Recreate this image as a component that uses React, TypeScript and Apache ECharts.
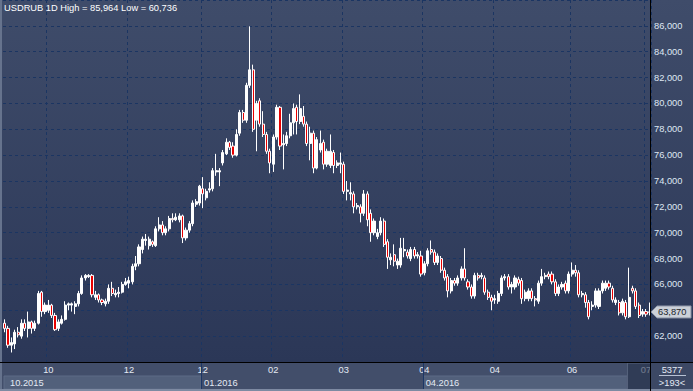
import React, { useEffect, useRef } from 'react';
import * as echarts from 'echarts';

const titleText = 'USDRUB 1D High = 85,964 Low = 60,736';

// [open, close, low, high]
const ohlc: [number, number, number, number][] = [
  [63.0, 62.6, 62.3, 63.3], [62.6, 61.3, 61.1, 62.8], [61.3, 61.5, 60.736, 61.9], [61.4, 62.3, 61.0, 62.5],
  [62.3, 62.1, 61.9, 62.7], [62.0, 63.0, 61.8, 63.3], [63.0, 62.6, 62.4, 63.3], [62.6, 63.1, 61.9, 63.9],
  [63.1, 62.6, 62.2, 63.2], [62.6, 63.0, 62.4, 63.2], [63.0, 65.3, 62.9, 65.5], [65.4, 63.9, 63.5, 65.5],
  [63.9, 64.4, 63.7, 64.6], [64.0, 64.4, 63.8, 64.8], [64.4, 63.6, 63.4, 64.5], [63.6, 62.5, 62.4, 63.8],
  [62.6, 63.1, 62.4, 63.3], [63.0, 63.3, 62.9, 63.6], [63.3, 64.4, 63.2, 64.7], [64.4, 64.5, 64.0, 64.6],
  [64.4, 64.5, 63.9, 64.6], [64.3, 64.5, 63.7, 64.7], [64.5, 65.3, 64.3, 65.5], [65.3, 66.5, 65.2, 66.7],
  [66.5, 66.7, 66.3, 66.8], [66.6, 66.7, 66.5, 66.8], [66.7, 65.2, 65.0, 66.8], [65.0, 65.2, 64.8, 65.5],
  [65.2, 64.8, 64.6, 65.3], [64.8, 64.6, 64.4, 64.9], [64.5, 64.7, 64.3, 64.9], [64.7, 65.7, 64.5, 66.0],
  [65.7, 65.3, 65.1, 66.2], [65.2, 65.3, 65.0, 65.6], [65.3, 65.4, 65.0, 65.8], [65.4, 66.0, 65.3, 66.2],
  [66.0, 66.2, 65.9, 66.5], [66.1, 66.3, 65.7, 66.6], [66.2, 67.4, 66.0, 67.6], [67.4, 67.6, 67.1, 68.2],
  [67.6, 68.9, 67.4, 69.1], [68.7, 69.5, 68.4, 69.7], [69.4, 69.5, 69.0, 69.9], [69.0, 69.5, 68.7, 69.7],
  [69.3, 69.1, 68.9, 69.4], [69.0, 70.3, 68.9, 70.5], [70.3, 70.6, 70.1, 71.2], [70.6, 70.0, 69.8, 70.9],
  [70.0, 70.3, 69.8, 70.5], [70.3, 71.1, 70.1, 71.3], [71.1, 71.0, 70.8, 71.5], [71.0, 71.2, 70.9, 71.5],
  [71.0, 71.3, 70.8, 71.5], [71.3, 69.6, 69.2, 71.4], [69.6, 70.2, 69.4, 70.4], [70.2, 70.7, 70.0, 70.9],
  [70.7, 72.3, 70.5, 72.5], [72.2, 72.4, 72.0, 72.6], [72.3, 73.6, 72.1, 73.7], [73.4, 73.0, 71.9, 74.3],
  [72.7, 73.2, 72.5, 73.4], [73.3, 73.4, 73.1, 73.9], [73.4, 74.8, 73.2, 75.0], [74.7, 74.8, 74.4, 76.1],
  [74.7, 74.8, 73.6, 75.0], [75.4, 76.2, 75.2, 76.4], [76.1, 77.0, 76.0, 77.3], [77.0, 76.6, 76.4, 77.1],
  [76.7, 76.0, 75.8, 77.0], [76.0, 77.6, 75.9, 78.0], [77.7, 79.3, 77.5, 79.5], [79.3, 78.7, 78.5, 79.5],
  [78.7, 81.4, 78.5, 81.6], [81.4, 82.6, 81.2, 85.964], [82.6, 78.0, 77.8, 83.0], [78.7, 80.0, 76.3, 80.2],
  [80.2, 78.4, 78.2, 80.4], [78.4, 77.6, 77.4, 79.4], [77.6, 76.3, 76.1, 77.8], [76.3, 75.4, 74.6, 76.5],
  [75.3, 77.4, 74.7, 77.6], [77.4, 79.7, 77.2, 79.9], [79.7, 76.7, 76.4, 79.8], [76.8, 76.9, 74.9, 77.6],
  [76.9, 77.5, 76.7, 77.8], [77.5, 78.5, 77.3, 79.2], [78.5, 79.6, 77.6, 80.0], [79.7, 78.6, 77.6, 79.9],
  [78.6, 79.6, 78.4, 80.7], [79.0, 78.4, 78.2, 79.8], [78.4, 76.9, 76.7, 78.6], [76.9, 77.7, 75.6, 78.2],
  [77.7, 75.0, 74.6, 77.9], [75.0, 77.2, 74.9, 77.4], [76.4, 76.9, 76.2, 77.9], [77.0, 75.3, 74.9, 77.2],
  [75.3, 76.3, 75.1, 76.5], [75.2, 76.3, 75.0, 77.6], [76.2, 75.2, 74.6, 76.4], [75.2, 75.4, 75.0, 75.6],
  [75.3, 75.4, 74.6, 76.2], [75.3, 73.2, 73.0, 75.5], [73.2, 73.3, 72.5, 74.0], [73.0, 73.1, 72.5, 73.9],
  [73.0, 72.0, 71.5, 73.2], [72.0, 72.1, 71.8, 72.3], [72.0, 71.5, 70.8, 72.2], [71.5, 73.0, 71.3, 73.3],
  [73.0, 71.0, 70.5, 73.2], [71.5, 70.0, 69.3, 71.8], [70.0, 70.9, 69.8, 71.1], [69.7, 70.0, 69.5, 70.3],
  [70.0, 70.9, 69.8, 71.2], [70.9, 69.1, 68.9, 71.1], [69.3, 68.1, 67.2, 69.5], [67.9, 68.1, 67.5, 68.4],
  [68.3, 67.8, 67.4, 69.1], [67.5, 67.8, 67.2, 68.0], [67.5, 68.8, 67.3, 69.6], [68.6, 68.7, 68.1, 69.6],
  [68.5, 68.2, 68.0, 68.7], [68.0, 68.7, 67.8, 68.9], [68.7, 68.2, 68.0, 68.9], [68.2, 68.3, 68.0, 68.5],
  [68.2, 66.8, 66.6, 68.6], [66.9, 67.6, 66.7, 67.8], [67.6, 68.6, 67.4, 68.8], [68.7, 68.5, 68.3, 69.4],
  [68.5, 67.7, 67.5, 68.7], [67.7, 68.2, 67.5, 68.4], [68.0, 67.1, 66.9, 68.2], [67.1, 66.5, 66.3, 67.3],
  [66.6, 65.5, 65.0, 66.8], [65.5, 66.3, 65.3, 66.5], [66.3, 66.1, 65.9, 66.5], [66.1, 66.5, 65.9, 66.7],
  [66.5, 67.2, 66.3, 67.4], [67.2, 66.5, 66.3, 68.8], [66.2, 65.8, 65.6, 66.4], [65.8, 65.1, 64.9, 66.0],
  [65.1, 66.7, 64.9, 66.9], [66.7, 66.5, 66.3, 66.9], [66.6, 66.7, 66.4, 66.9], [66.5, 65.4, 65.2, 66.7],
  [65.4, 65.0, 64.8, 65.6], [65.0, 64.7, 64.0, 65.2], [64.8, 64.9, 64.5, 65.2], [64.7, 65.3, 64.5, 65.5],
  [65.3, 66.5, 65.1, 66.7], [66.5, 66.6, 66.3, 66.8], [66.6, 65.8, 65.6, 66.8], [65.8, 66.0, 65.3, 66.2],
  [65.8, 66.5, 65.6, 66.7], [66.4, 66.1, 65.9, 66.6], [66.3, 64.9, 64.5, 66.5], [64.9, 65.4, 64.7, 65.6],
  [64.9, 65.5, 64.7, 65.7], [65.5, 64.9, 64.7, 65.7], [64.9, 64.8, 64.3, 65.1], [64.7, 66.1, 64.5, 66.3],
  [66.1, 66.6, 65.9, 67.2], [66.6, 66.7, 66.4, 66.9], [66.8, 66.6, 66.4, 67.0], [66.8, 66.2, 66.0, 67.0],
  [66.2, 65.3, 65.1, 66.4], [65.3, 65.8, 65.1, 66.0], [65.8, 66.0, 65.6, 66.2], [66.1, 65.5, 65.3, 66.3],
  [65.5, 66.8, 65.3, 67.0], [66.8, 67.1, 66.6, 67.7], [67.1, 66.9, 66.6, 67.5], [66.9, 65.2, 65.0, 67.1],
  [65.2, 65.3, 65.0, 65.5], [65.2, 64.6, 64.2, 65.4], [64.6, 63.5, 63.3, 64.8], [64.3, 64.4, 64.0, 64.7],
  [64.4, 65.5, 64.2, 65.7], [64.3, 65.5, 64.1, 65.7], [65.5, 66.1, 65.3, 66.3], [65.7, 66.1, 65.5, 66.3],
  [66.1, 65.8, 65.6, 66.3], [65.7, 64.8, 64.6, 65.9], [64.6, 64.8, 64.4, 65.0], [64.6, 63.8, 63.6, 64.8],
  [63.8, 64.7, 63.6, 64.9], [64.6, 63.5, 63.3, 64.8], [63.5, 65.0, 63.4, 67.3], [65.7, 65.5, 65.3, 65.9],
  [65.5, 64.3, 64.1, 65.7], [64.4, 63.6, 63.4, 64.6], [63.7, 63.9, 63.5, 64.1], [63.9, 63.7, 63.5, 64.1],
  [63.85, 63.87, 63.6, 64.6],
];

const tickIndices = [13, 37, 59, 80, 101, 125, 146, 169, 191];
const tickLabels = ['10', '12', '12', '02', '03', '04', '04', '06', '07'];
const periodStarts = [0, 59, 125];
const periodLabels = ['10.2015', '01.2016', '04.2016'];
const periodShaded = [true, false, true];
const scrollStart = 186;
const lastPrice = 63.87;
const totalBars = '5377';
const visibleBars = '>193<';
const yMin = 60;
const yMax = 88;
const yStep = 2;

const fmt = (v: number) => v.toFixed(3).replace('.', ',');
const FONT = 'Liberation Sans, Arial, sans-serif';

export default function App() {
  const ref = useRef<HTMLDivElement>(null);
  useEffect(() => {
    const chart = echarts.init(ref.current!, null, { renderer: 'svg' });
    const categories = ohlc.map((_, i) => String(i));
    const tickSet = new Set(tickIndices);
    const gridColor = '#1b3562';
    chart.setOption({
      animation: false,
      backgroundColor: '#424e6a',
      title: {
        text: titleText, left: 4, top: 3, padding: 0,
        textStyle: { color: '#ffffff', fontSize: 9.3, fontWeight: 'normal', fontFamily: FONT },
      },
      grid: { left: 3, right: 42, top: -1, bottom: 29 },
      xAxis: {
        type: 'category', data: categories, boundaryGap: true,
        axisLine: { show: false }, axisTick: { show: false },
        axisLabel: {
          interval: (i: number) => tickSet.has(i),
          formatter: (_v: string, i: number) => {
            const k = tickIndices.indexOf(i);
            return k >= 0 ? tickLabels[k] : '';
          },
          color: '#e4eaf4', fontSize: 9.3, fontFamily: FONT, margin: 3,
        },
        splitLine: {
          show: true, interval: (i: number) => tickSet.has(i),
          lineStyle: { color: gridColor, type: [3, 3], width: 1 },
        },
      },
      yAxis: {
        type: 'value', position: 'right', min: yMin, max: yMax, interval: yStep,
        axisLine: { show: false }, axisTick: { show: false },
        axisLabel: {
          // the tick hidden behind the last-price marker is not shown
          formatter: (v: number) => (Math.abs(v - lastPrice) < 1 ? '' : fmt(v)),
          showMinLabel: false, showMaxLabel: false,
          color: '#dfe7f3', fontSize: 9.3, fontFamily: FONT, margin: 3, align: 'left',
        },
        splitLine: { show: true, lineStyle: { color: gridColor, type: [3, 3], width: 1 } },
      },
      series: [{
        type: 'candlestick', data: ohlc, barWidth: 2.6,
        itemStyle: { color: '#ffffff', color0: '#e80000', borderColor: '#ffffff', borderColor0: '#ffffff', borderWidth: 1 },
      }],
    });

    const px = (i: number) => chart.convertToPixel({ xAxisIndex: 0 }, categories[i]) as number;
    const band = px(1) - px(0);
    const edge = (i: number) => px(i) - band / 2;
    const priceY = chart.convertToPixel({ yAxisIndex: 0 }, lastPrice) as number;
    const W = 693, H = 391, axisY = 362.5, axisX = 650.5;
    const scrollX = edge(scrollStart);

    const graphics: any[] = [
      {
        type: 'rect', z: -100, silent: true, shape: { x: 0, y: 0, width: W, height: 362 },
        style: { fill: new echarts.graphic.LinearGradient(0, 0, 0, 1, [
          { offset: 0, color: '#3f4c6a' }, { offset: 1, color: '#2b3757' },
        ]) },
      },
    ];
    periodStarts.forEach((s, k) => {
      const x0 = edge(s);
      const x1 = k + 1 < periodStarts.length ? edge(periodStarts[k + 1]) : scrollX;
      if (periodShaded[k]) {
        graphics.push({ type: 'rect', z: -50, silent: true, shape: { x: x0 + 1, y: 376, width: x1 - x0 - 1, height: 13 },
          style: { fill: '#52607b', stroke: '#5d6b86', lineWidth: 1 } });
      }
      graphics.push({ type: 'text', z: 10, silent: true, x: x0 + (s === 0 ? 7 : 3), y: 382.5,
        style: { text: periodLabels[k], fill: '#e4eaf4', font: `9.3px ${FONT}`, textVerticalAlign: 'middle' } });
      if (s > 0) {
        graphics.push({ type: 'line', z: 5, silent: true, shape: { x1: Math.round(x0) + 0.5, y1: 362, x2: Math.round(x0) + 0.5, y2: H },
          style: { stroke: '#1c3766', lineWidth: 1 } });
      }
    });
    graphics.push(
      { type: 'rect', z: 20, silent: true, shape: { x: scrollX, y: 363, width: axisX - scrollX, height: 28 },
        style: { fill: 'rgba(36,48,74,0.6)', stroke: '#56627c', lineWidth: 1 } },
      { type: 'rect', z: 30, silent: true, shape: { x: 0, y: 0, width: 2, height: H }, style: { fill: '#66738d' } },
      { type: 'rect', z: 30, silent: true, shape: { x: 0, y: 389, width: W, height: 2 }, style: { fill: '#7e8aa2' } },
      { type: 'line', z: 40, silent: true, shape: { x1: 0, y1: axisY, x2: W, y2: axisY }, style: { stroke: '#000000', lineWidth: 1 } },
      { type: 'rect', z: 40, silent: true, shape: { x: 651, y: 363, width: W - 651, height: 26 }, style: { fill: '#3c4864' } },
      { type: 'line', z: 45, silent: true, shape: { x1: axisX, y1: 0, x2: axisX, y2: H }, style: { stroke: '#000000', lineWidth: 1 } },
      { type: 'text', z: 45, silent: true, x: 672, y: 369.5,
        style: { text: totalBars, fill: '#e4eaf4', font: `9.3px ${FONT}`, textAlign: 'center', textVerticalAlign: 'middle' } },
      { type: 'line', z: 45, silent: true, shape: { x1: 659, y1: 375.5, x2: 686, y2: 375.5 }, style: { stroke: '#b8c2d4', lineWidth: 1 } },
      { type: 'text', z: 45, silent: true, x: 672, y: 382.5,
        style: { text: visibleBars, fill: '#e4eaf4', font: `9.3px ${FONT}`, textAlign: 'center', textVerticalAlign: 'middle' } },
      { type: 'polygon', z: 50, silent: true,
        shape: { points: [[651, priceY], [657, priceY - 6], [691, priceY - 6], [691, priceY + 6], [657, priceY + 6]] },
        style: { fill: '#cbd0d8', stroke: '#8a93a5', lineWidth: 1 } },
      { type: 'text', z: 55, silent: true, x: 658, y: priceY + 0.5,
        style: { text: fmt(lastPrice), fill: '#1a1f2a', font: `9.3px ${FONT}`, textVerticalAlign: 'middle' } },
    );
    chart.setOption({ graphic: graphics });
    return () => chart.dispose();
  }, []);
  return <div ref={ref} style={{ position: 'fixed', left: 0, top: 0, width: 693, height: 391 }} />;
}
